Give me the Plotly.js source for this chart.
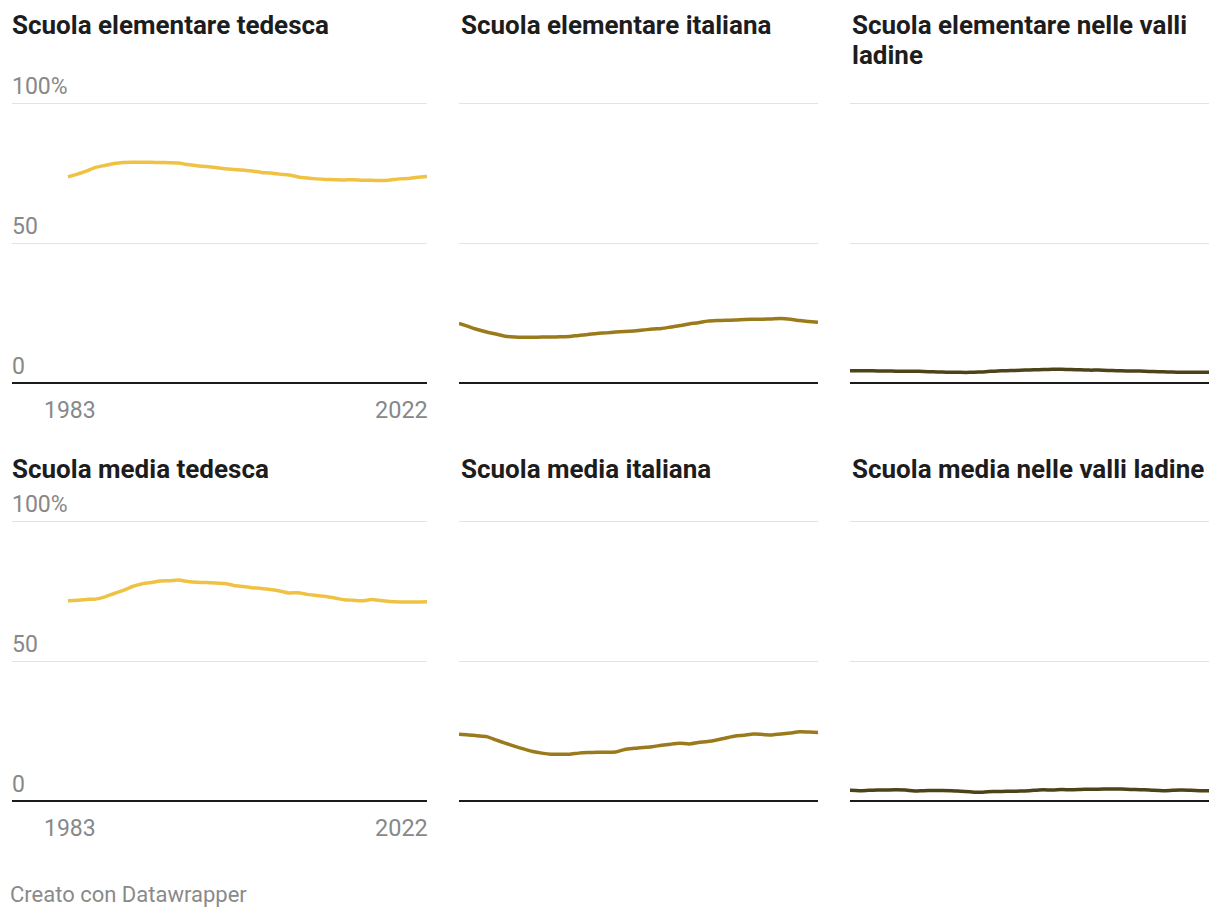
<!DOCTYPE html>
<html><head><meta charset="utf-8">
<script src="https://cdn.plot.ly/plotly-3.0.1.min.js"></script>
<style>html,body{margin:0;padding:0;background:#fff;} #chart{width:1220px;height:918px;}</style>
</head><body><div id="chart"></div>
<script>
const years = [1983,1984,1985,1986,1987,1988,1989,1990,1991,1992,1993,1994,1995,1996,1997,1998,1999,2000,2001,2002,2003,2004,2005,2006,2007,2008,2009,2010,2011,2012,2013,2014,2015,2016,2017,2018,2019,2020,2021,2022];

const elementareTedesca = [73.6,74.6,75.7,77.0,77.7,78.4,78.75,78.8,78.8,78.8,78.75,78.7,78.6,78.0,77.6,77.3,76.95,76.5,76.25,76.1,75.7,75.2,75.0,74.6,74.3,73.6,73.2,72.9,72.7,72.6,72.5,72.6,72.4,72.4,72.3,72.5,72.9,73.0,73.5,73.75];
const elementareItaliana = [21.3,20.2,19.1,18.2,17.5,16.7,16.4,16.3,16.35,16.4,16.4,16.5,16.6,17.0,17.3,17.7,17.9,18.2,18.4,18.6,18.9,19.3,19.5,20.0,20.5,21.1,21.5,22.1,22.3,22.4,22.5,22.7,22.75,22.8,22.9,23.0,22.75,22.3,22.0,21.7];
const elementareLadine = [4.4,4.4,4.4,4.3,4.3,4.2,4.2,4.2,4.1,4.0,3.9,3.85,3.8,3.8,3.9,4.1,4.3,4.4,4.5,4.6,4.7,4.8,4.9,4.9,4.8,4.7,4.6,4.6,4.5,4.4,4.3,4.3,4.2,4.1,4.0,3.9,3.8,3.8,3.8,3.8];
const mediaTedesca = [71.5,71.7,72.0,72.1,72.9,74.1,75.2,76.6,77.5,78.0,78.6,78.7,78.9,78.4,78.1,78.0,77.9,77.7,77.0,76.6,76.2,75.9,75.5,75.0,74.3,74.4,73.8,73.4,73.0,72.5,71.9,71.7,71.5,71.96,71.6,71.25,71.1,71.1,71.1,71.2];
const mediaItaliana = [23.8,23.6,23.3,23.0,21.8,20.7,19.6,18.6,17.7,17.1,16.7,16.7,16.7,17.1,17.3,17.4,17.4,17.5,18.4,18.8,19.1,19.4,19.9,20.3,20.6,20.4,20.9,21.25,21.8,22.5,23.2,23.5,23.9,23.75,23.6,23.9,24.3,24.7,24.6,24.5];
const mediaLadine = [3.8,3.7,3.8,3.9,3.95,4.0,3.9,3.6,3.7,3.75,3.75,3.7,3.5,3.3,3.1,3.3,3.4,3.45,3.5,3.6,3.8,4.0,3.9,4.1,4.0,4.1,4.2,4.2,4.3,4.3,4.2,4.1,4.0,3.8,3.7,3.8,3.9,3.8,3.7,3.7];

const panelTitles = ["Scuola elementare tedesca","Scuola elementare italiana","Scuola elementare nelle valli<br>ladine","Scuola media tedesca","Scuola media italiana","Scuola media nelle valli ladine"];
const yTickVals = [0,50,100];
const yTickText = ["0","50","100%"];
const xLabelFirst = "1983";
const xLabelLast = "2022";
const footer = "Creato con Datawrapper";

const series = [elementareTedesca, elementareItaliana, elementareLadine, mediaTedesca, mediaItaliana, mediaLadine];
const colors = ["#f0c244","#9b7a1c","#4d4318","#f0c244","#9b7a1c","#4d4318"];

const W = 1220, H = 918;
const fx = v => v / W;
const fy = v => 1 - v / H;
const pxPerYear = 359 / 39;
const pxPerUnit = 2.8;
const yPad = 1.5;

const cols = [
  {dataL: 68, domL: 12, domR: 427, titleX: 12},
  {dataL: 459, domL: 459, domR: 818, titleX: 461},
  {dataL: 850, domL: 850, domR: 1209, titleX: 852}
];
const rows = [
  {zeroY: 383, titleY: 25, xlabY: 410},
  {zeroY: 801, titleY: 469, xlabY: 828}
];

const FONT = "Roboto, 'Noto Sans', Arial, sans-serif";
const TICKCOL = "#888888";
const traces = [];
const layout = {
  width: W, height: H,
  margin: {l:0, r:0, t:0, b:0},
  paper_bgcolor: "#ffffff", plot_bgcolor: "rgba(0,0,0,0)",
  showlegend: false,
  font: {family: FONT},
  annotations: [],
};

for (let r = 0; r < 2; r++) {
  for (let c = 0; c < 3; c++) {
    const i = r * 3 + c;
    const n = i + 1;
    const xa = n === 1 ? "x" : "x" + n;
    const ya = n === 1 ? "y" : "y" + n;
    const col = cols[c], row = rows[r];
    traces.push({
      x: years, y: series[i], type: "scatter", mode: "lines",
      xaxis: xa, yaxis: ya,
      line: {color: colors[i], width: 3.5, shape: "spline", smoothing: 0.6},
      hoverinfo: "x+y"
    });
    const xStart = years[0] - (col.dataL - col.domL) / pxPerYear;
    const xEnd = years[0] + (col.domR - col.dataL) / pxPerYear;
    layout["xaxis" + (n === 1 ? "" : n)] = {
      domain: [fx(col.domL), fx(col.domR)],
      range: [xStart, xEnd],
      anchor: ya,
      showgrid: false, zeroline: false, showticklabels: false, ticks: "",
      showline: false, fixedrange: true
    };
    const top = row.zeroY - 100 * pxPerUnit - yPad * pxPerUnit;
    const bot = row.zeroY + yPad * pxPerUnit;
    layout["yaxis" + (n === 1 ? "" : n)] = {
      domain: [fy(bot), fy(top)],
      range: [-yPad, 100 + yPad],
      anchor: xa,
      tickmode: "array", tickvals: yTickVals,
      showticklabels: false,
      ticks: "",
      showgrid: true, gridcolor: "#e3e3e3", gridwidth: 1,
      zeroline: true, zerolinecolor: "#1b1b1b", zerolinewidth: 2,
      showline: false, fixedrange: true
    };
    const lines = panelTitles[i].split("<br>");
    lines.forEach((ln, k) => {
      layout.annotations.push({
        text: ln, xref: "paper", yref: "paper",
        x: fx(col.titleX), y: fy(row.titleY + 30 * k), xanchor: "left", yanchor: "middle",
        xshift: -2, showarrow: false, align: "left",
        font: {size: 26, color: "#1d1d1d", family: FONT, weight: 700}
      });
    });
    if (c === 0) {
      yTickVals.forEach((v, k) => {
        layout.annotations.push({
          text: yTickText[k], xref: "paper", yref: ya,
          x: fx(col.domL), y: v, xanchor: "left", yanchor: "middle",
          xshift: -2, yshift: 17, showarrow: false,
          font: {size: 23, color: TICKCOL, family: FONT}
        });
      });
      layout.annotations.push({
        text: xLabelFirst, xref: xa, yref: "paper",
        x: years[0], y: fy(row.xlabY), xanchor: "center", yanchor: "middle",
        xshift: 2, showarrow: false, font: {size: 23, color: TICKCOL, family: FONT}
      });
      layout.annotations.push({
        text: xLabelLast, xref: xa, yref: "paper",
        x: years[years.length - 1], y: fy(row.xlabY), xanchor: "right", yanchor: "middle",
        xshift: 3, showarrow: false, font: {size: 23.5, color: TICKCOL, family: FONT}
      });
    }
  }
}
layout.annotations.push({
  text: footer, xref: "paper", yref: "paper",
  x: fx(10), y: fy(894), xanchor: "left", yanchor: "middle",
  xshift: -2, showarrow: false, font: {size: 22, color: "#8a8a8a", family: FONT}
});

Plotly.newPlot("chart", traces, layout, {displayModeBar: false, staticPlot: true});
</script>
</body></html>
